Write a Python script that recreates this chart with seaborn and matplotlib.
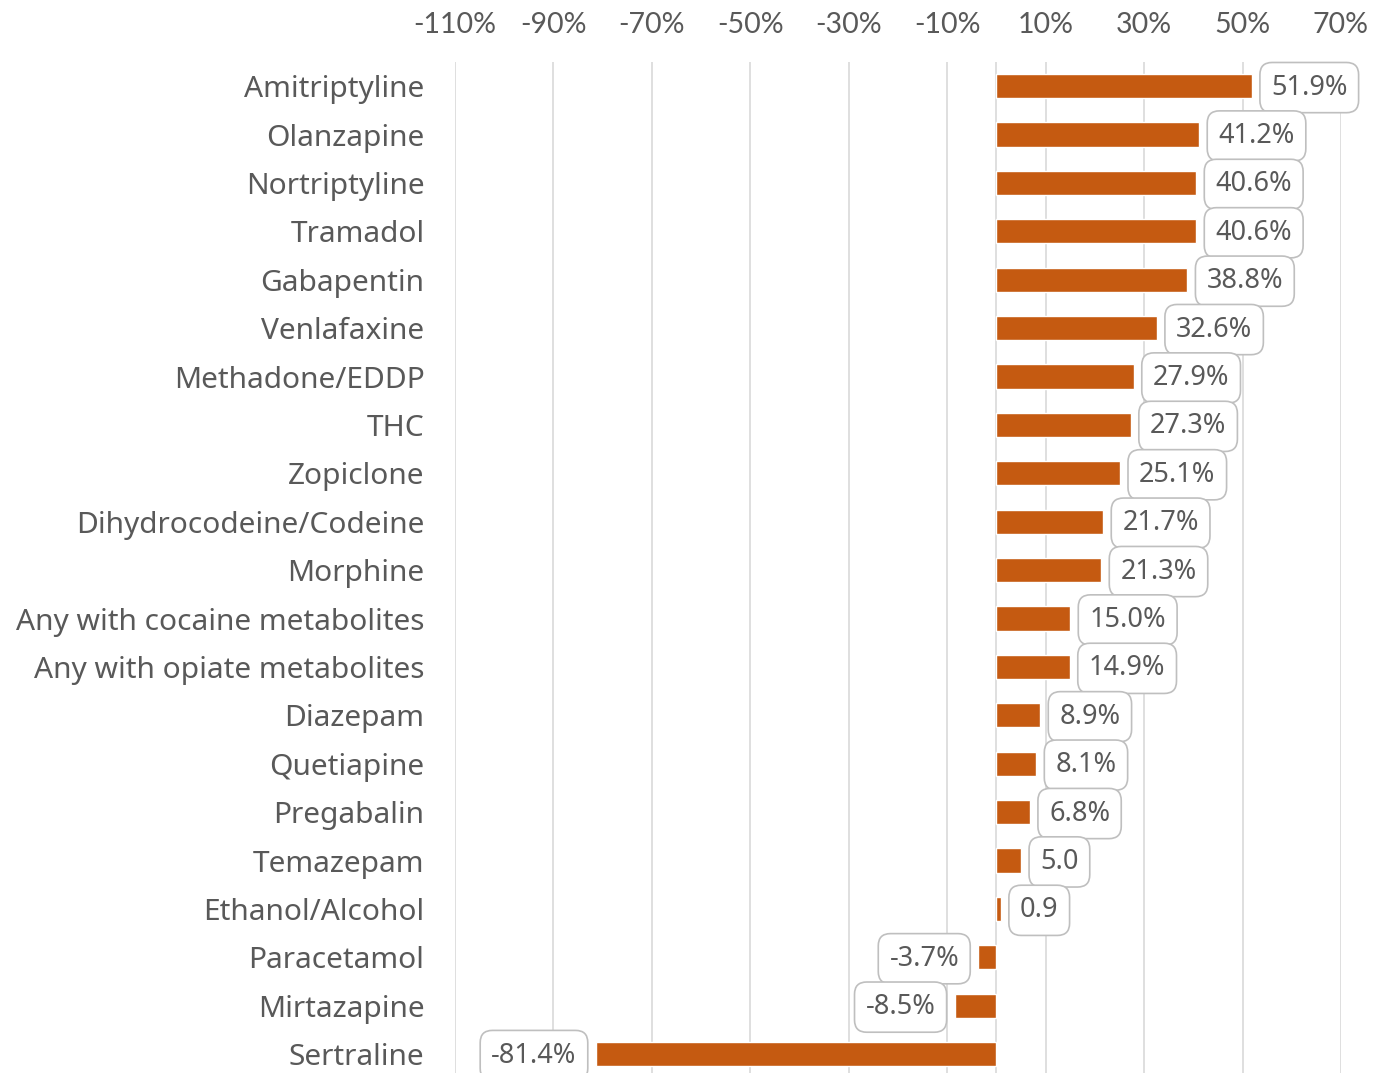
import matplotlib
matplotlib.use("Agg")
import matplotlib.pyplot as plt
import seaborn as sns
import pandas as pd

categories = ["Amitriptyline", "Olanzapine", "Nortriptyline", "Tramadol", "Gabapentin",
              "Venlafaxine", "Methadone/EDDP", "THC", "Zopiclone", "Dihydrocodeine/Codeine",
              "Morphine", "Any with cocaine metabolites", "Any with opiate metabolites",
              "Diazepam", "Quetiapine", "Pregabalin", "Temazepam", "Ethanol/Alcohol",
              "Paracetamol", "Mirtazapine", "Sertraline"]
values = [51.9, 41.2, 40.6, 40.6, 38.8, 32.6, 27.9, 27.3, 25.1, 21.7, 21.3, 15.0, 14.9,
          8.9, 8.1, 6.8, 5.0, 0.9, -3.7, -8.5, -81.4]
value_labels = ["51.9%", "41.2%", "40.6%", "40.6%", "38.8%", "32.6%", "27.9%", "27.3%",
                "25.1%", "21.7%", "21.3%", "15.0%", "14.9%", "8.9%", "8.1%", "6.8%",
                "5.0", "0.9", "-3.7%", "-8.5%", "-81.4%"]
tick_values = [-110, -90, -70, -50, -30, -10, 10, 30, 50, 70]
tick_labels = ["-110%", "-90%", "-70%", "-50%", "-30%", "-10%", "10%", "30%", "50%", "70%"]

df = pd.DataFrame({"category": categories, "value": values})

sns.set_theme(style="white")
plt.rcParams["font.family"] = ["Noto Sans", "DejaVu Sans"]

W, H = 1374, 1073
fig = plt.figure(figsize=(W / 100, H / 100), dpi=100)
ax = fig.add_axes([455 / W, 0.0, (1341 - 455) / W, 1 - 62 / H])

BAR = "#C55A11"
TEXT = "#595959"
GRID = "#D9D9D9"

sns.barplot(data=df, x="value", y="category", orient="h", color=BAR, width=0.5,
            saturation=1, ax=ax, zorder=3)

ax.set_xlim(-110, 70)
ax.set_ylim(20.39, -0.5)
ax.set_xticks(tick_values)
ax.set_xticklabels(tick_labels, family=["Lato", "DejaVu Sans"])
ax.xaxis.tick_top()
ax.tick_params(axis="x", length=0, pad=17, labelsize=20.5, labelcolor=TEXT)
ax.tick_params(axis="y", length=0, pad=22, labelsize=21.5, labelcolor=TEXT)
ax.set_xlabel("")
ax.set_ylabel("")
for s in ax.spines.values():
    s.set_visible(False)
for t in tick_values:
    ax.axvline(t, color=GRID, lw=1.2, zorder=0)
ax.axvline(0, color=GRID, lw=1.2, zorder=0)

px2pt = 72 / 100
fs = 19.5
pad = 0.41
off = (8 + pad * fs / px2pt) * px2pt
for i, (v, lab) in enumerate(zip(values, value_labels)):
    sign = 1 if v >= 0 else -1
    ax.annotate(lab, xy=(v, i), xytext=(sign * off, -1), textcoords="offset points",
                ha="left" if v >= 0 else "right", va="center", fontsize=fs, color=TEXT,
                zorder=5, annotation_clip=False,
                bbox=dict(boxstyle=f"round,pad={pad},rounding_size=0.45", fc="white",
                          ec="#BFBFBF", lw=1.2))

fig.savefig("out.png", dpi=100, facecolor="white")
